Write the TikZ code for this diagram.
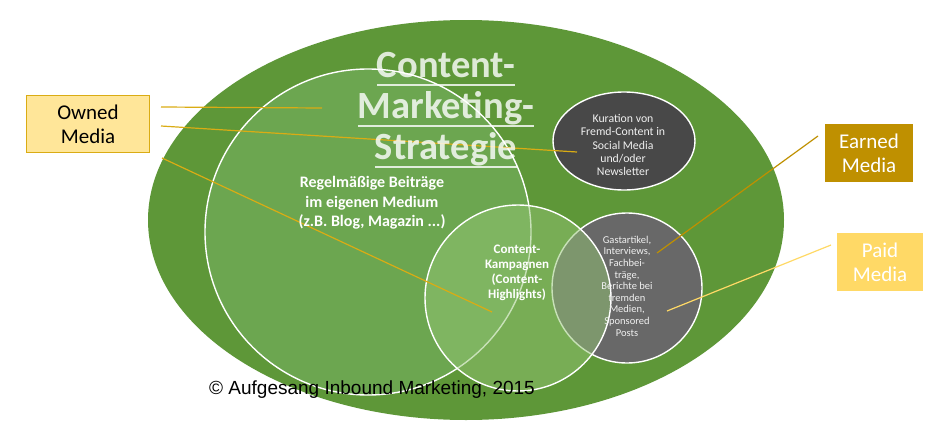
\documentclass[tikz,border=0pt]{standalone}
\usepackage{fontspec}
\setmainfont{Carlito}
\newfontfamily\arialfont{Liberation Sans}
\newcommand\titleline[1]{\setbox0\hbox{#1}\rlap{\rule[-9pt]{\wd0}{2.4pt}}\box0}
\definecolor{outergreen}{RGB}{94,151,56}
\definecolor{ownedgreen}{RGB}{108,166,80}
\definecolor{campgreen}{RGB}{146,196,114}
\definecolor{curgray}{RGB}{72,72,72}
\definecolor{guestgray}{RGB}{104,104,104}
\definecolor{ownedfill}{RGB}{255,230,153}
\definecolor{ownedline}{RGB}{218,172,20}
\definecolor{earnedfill}{RGB}{191,144,0}
\definecolor{paidfill}{RGB}{255,217,102}
\begin{document}
\begin{tikzpicture}[x=1pt,y=1pt,
  media box/.style={draw, line width=1pt, inner sep=0, align=center, minimum height=57, font=\fontsize{21}{24}\selectfont},
  ring/.style={draw=white, line width=1.4pt},
  inner text/.style={align=center, text=white, font=\bfseries\fontsize{16}{19.5}\selectfont}]
  \tikzstyle{every node}=[inner sep=0]
  \useasboundingbox (0,0) rectangle (930,-434);

  % circles
  \fill[outergreen] (466,-220) ellipse [x radius=318, y radius=200];
  \filldraw[ring, fill=ownedgreen] (368,-232) circle [radius=163];
  \filldraw[ring, fill=curgray] (624,-141) ellipse [x radius=71, y radius=49];
  \filldraw[ring, fill=guestgray] (627,-288) circle [radius=75];
  \filldraw[ring, fill=campgreen, fill opacity=0.5] (518,-298) circle [radius=93];

  % endpoints inside the circles
  \coordinate (o1) at (161,-107);
  \coordinate (o2) at (161,-126);
  \coordinate (o3) at (162,-158);
  \coordinate (regular) at (322,-108);
  \coordinate (curation) at (577,-152);
  \coordinate (campaign) at (492,-312);
  \coordinate (guest1) at (657,-253);
  \coordinate (guest2) at (667,-311);

  % labels
  \node[media box, draw=ownedline, fill=ownedfill, minimum width=123] (owned) at (88,-124) {Owned\\Media};
  \node[media box, draw=earnedfill, fill=earnedfill, text=white, minimum width=87] (earned) at (869,-153) {Earned\\Media};
  \node[media box, draw=paidfill, fill=paidfill, text=white, minimum width=85] (paid) at (880,-262) {Paid\\Media};

  \path[ownedline, line width=1.2pt]
    (o1) edge (regular)
    (o2) edge (curation)
    (o3) edge (campaign);
  \draw[earnedfill, line width=1.2pt] ([xshift=-7pt,yshift=17pt]earned.west) -- (guest1);
  \draw[paidfill, line width=1.2pt] ([xshift=-6pt,yshift=17pt]paid.west) -- (guest2);

  % texts
  \node[text=white, text opacity=0.8, align=center, font=\bfseries\fontsize{38.5}{41}\selectfont] (title) at (446,-110)
    {\titleline{Content-}\\\titleline{Marketing-}\\\titleline{Strategie}};
  \node[inner text] (regtext) at (372,-203) {Regelmäßige Beiträge\\im eigenen Medium\\(z.B. Blog, Magazin ...)};
  \node[inner text, font=\bfseries\fontsize{13}{15}\selectfont] (camptext) at (517,-273) {Content-\\Kampagnen\\(Content-\\Highlights)};
  \node[align=center, text=white!94!black, font=\fontsize{11.8}{13.3}\selectfont] (curtext) at (623,-145)
    {Kuration von\\Fremd-Content in\\Social Media\\und/oder\\Newsletter};
  \node[align=center, text=white!94!black, font=\fontsize{10.5}{11.6}\selectfont] (guesttext) at (627,-286)
    {Gastartikel,\\Interviews,\\Fachbei-\\träge,\\Berichte bei\\fremden\\Medien,\\Sponsored\\Posts};
  \node[font=\arialfont\fontsize{19}{22}\selectfont] (copy) at (372,-390) {© Aufgesang Inbound Marketing, 2015};
\end{tikzpicture}
\end{document}
